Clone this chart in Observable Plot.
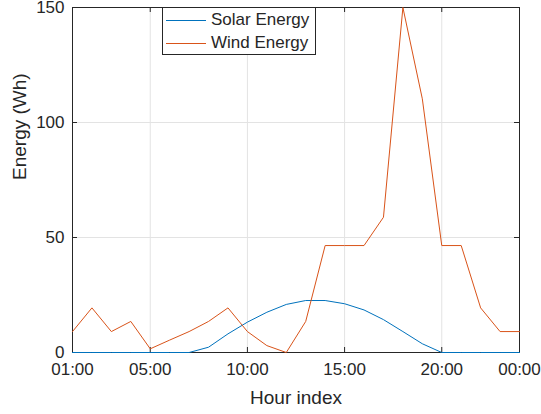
<!DOCTYPE html>
<html>
<head>
<meta charset="utf-8">
<script src="https://cdn.jsdelivr.net/npm/d3@7"></script>
<script src="https://cdn.jsdelivr.net/npm/@observablehq/plot@0.6"></script>
<style>
  html, body { margin: 0; padding: 0; background: #fff; }
  #wrap { position: relative; width: 541px; height: 414px; font-family: "Liberation Sans", Arial, sans-serif; }
  #legend {
    position: absolute; left: 162px; top: 7px; width: 154px; height: 48px;
    box-sizing: border-box; border: 1px solid #262626; background: #fff;
    font-size: 17px; color: #262626;
  }
  .row { position: absolute; left: 3px; height: 20px; display: flex; align-items: center; }
  .row .sw { width: 40px; height: 0; border-top: 1px solid; margin-right: 5px; }
</style>
</head>
<body>
<div id="wrap">
  <div id="chart"></div>
  <div id="legend"></div>
</div>
<script>
// Hour index 1..24 (24 is midnight)
const hours = d3.range(1, 25);
const solar = [0, 0, 0, 0, 0, 0, 0, 2.3, 8.1, 13.2, 17.5, 20.9, 22.6, 22.6, 21.2, 18.5, 14.3, 9.1, 3.8, 0, 0, 0, 0, 0];
const wind = [9.1, 19.4, 9.1, 13.5, 1.6, 5.4, 9.1, 13.5, 19.4, 9.1, 3.0, 0, 13.5, 46.5, 46.5, 46.5, 58.8, 150, 110.3, 46.5, 46.5, 19.4, 9.1, 9.1];
const xTicks = [1, 5, 10, 15, 20, 24];
const xTickLabels = ["01:00", "05:00", "10:00", "15:00", "20:00", "00:00"];
const yTicks = [0, 50, 100, 150];
const seriesNames = ["Solar Energy", "Wind Energy"];
const seriesColors = ["#0072BD", "#D95319"];

const rows = [];
hours.forEach((h, i) => {
  rows.push({hour: h, value: solar[i], series: seriesNames[0]});
  rows.push({hour: h, value: wind[i], series: seriesNames[1]});
});

const W = 541, H = 414;
const mTop = 7, mRight = 22, mBottom = 62, mLeft = 72;
const innerH = H - mTop - mBottom;
const innerW = W - mLeft - mRight;
const tickLen = 5;
const axisColor = "#262626";

const chart = Plot.plot({
  width: W,
  height: H,
  marginTop: mTop,
  marginRight: mRight,
  marginBottom: mBottom,
  marginLeft: mLeft,
  style: {fontFamily: "'Liberation Sans', Arial, sans-serif", color: axisColor, background: "#fff", overflow: "visible"},
  x: {domain: [1, 24]},
  y: {domain: [0, 150]},
  color: {domain: seriesNames, range: seriesColors},
  marks: [
    Plot.gridX(xTicks, {stroke: "#e3e3e3", strokeOpacity: 1}),
    Plot.gridY(yTicks, {stroke: "#e3e3e3", strokeOpacity: 1}),
    // inward ticks on all four sides
    Plot.tickX(xTicks, {x: d => d, insetTop: innerH - tickLen, stroke: axisColor}),
    Plot.tickX(xTicks, {x: d => d, insetBottom: innerH - tickLen, stroke: axisColor}),
    Plot.tickY(yTicks, {y: d => d, insetRight: innerW - tickLen, stroke: axisColor}),
    Plot.tickY(yTicks, {y: d => d, insetLeft: innerW - tickLen, stroke: axisColor}),
    Plot.frame({stroke: axisColor, strokeWidth: 1}),
    Plot.line(rows, {x: "hour", y: "value", z: "series", stroke: "series", strokeWidth: 1}),
    Plot.axisX(xTicks, {
      tickSize: 0, tickPadding: 10, fontSize: 17, fill: axisColor,
      tickFormat: d => xTickLabels[xTicks.indexOf(d)],
      label: null
    }),
    Plot.axisY(yTicks, {
      tickSize: 0, tickPadding: 8, fontSize: 17, fill: axisColor, label: null
    }),
    Plot.text(["Hour index"], {
      frameAnchor: "bottom", dy: 51, fontSize: 19, fill: axisColor, text: d => d
    }),
    Plot.text(["Energy (Wh)"], {
      frameAnchor: "left", dx: -53, rotate: -90, fontSize: 19, fill: axisColor, text: d => d
    })
  ]
});
document.getElementById("chart").appendChild(chart);

const legend = document.getElementById("legend");
seriesNames.forEach((name, i) => {
  const r = document.createElement("div");
  r.className = "row";
  r.style.top = (2 + i * 23) + "px";
  const sw = document.createElement("span");
  sw.className = "sw";
  sw.style.borderColor = seriesColors[i];
  const t = document.createElement("span");
  t.textContent = name;
  r.appendChild(sw);
  r.appendChild(t);
  legend.appendChild(r);
});
</script>
</body>
</html>
